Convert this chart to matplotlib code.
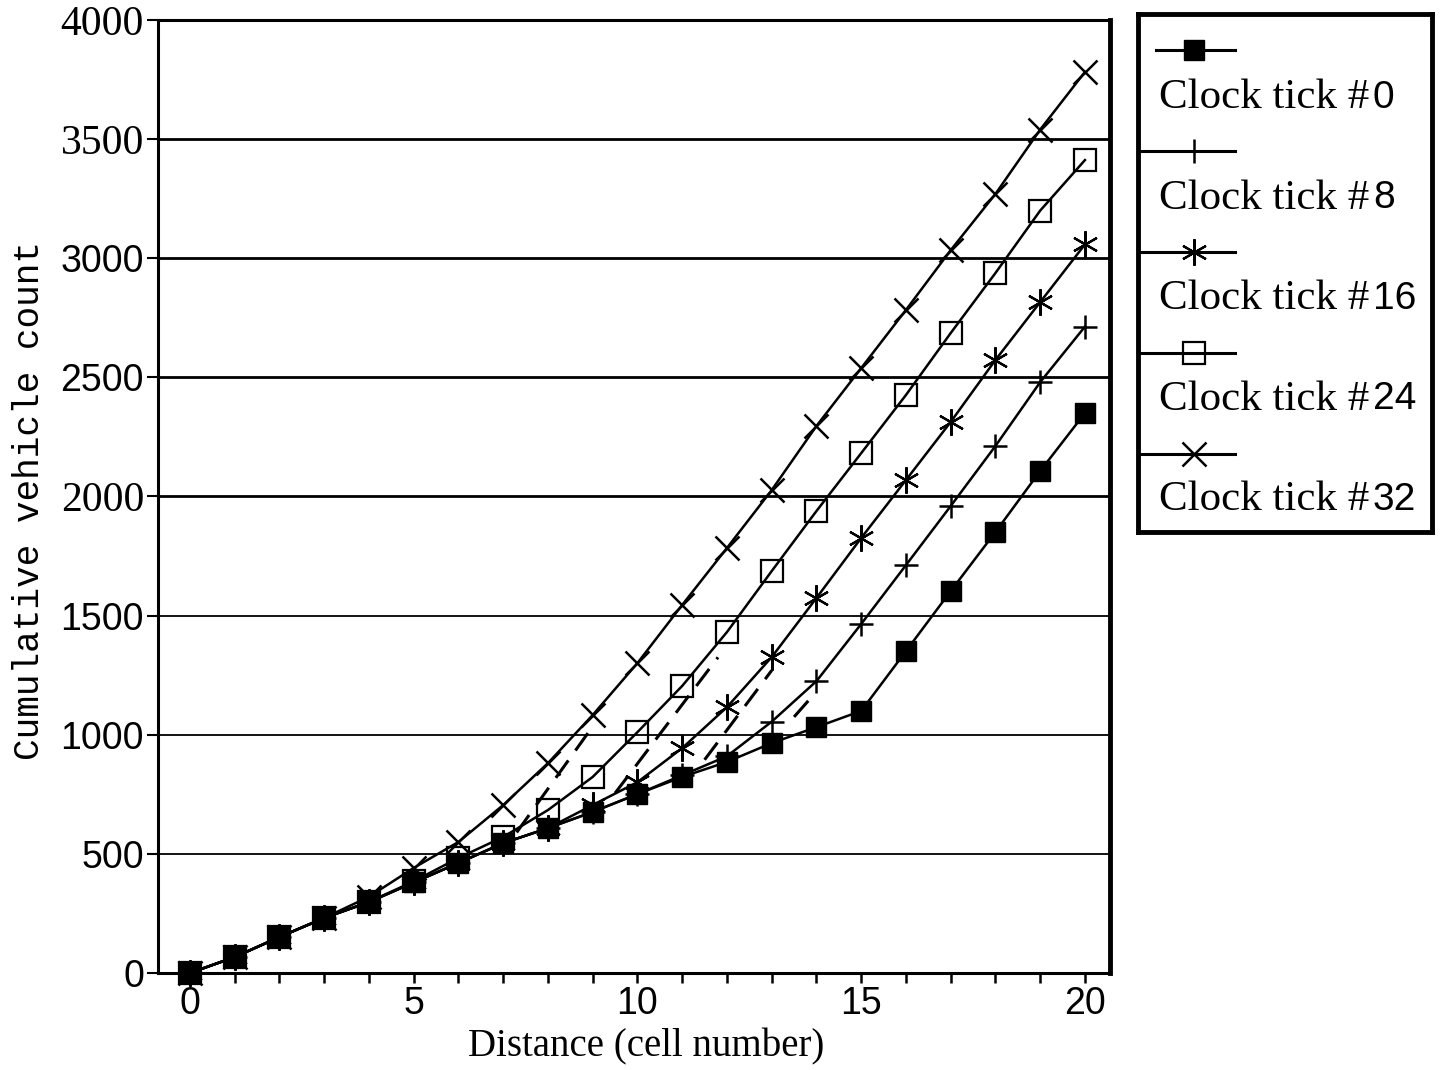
"""Cumulative vehicle count along the road at several clock ticks."""

import matplotlib
import matplotlib.pyplot as plt

matplotlib.use("Agg")

# cell index along the road
distance = list(range(21))

# cumulative vehicle counts per cell, one list per clock tick
tick_0 = [0, 67, 151, 231, 298, 380, 462, 545, 608, 676, 751, 823, 886,
          965, 1032, 1100, 1351, 1603, 1851, 2107, 2350]
tick_8 = [0, 67, 151, 231, 298, 380, 462, 545, 608, 676, 751, 830, 910,
          1055, 1225, 1465, 1712, 1960, 2212, 2480, 2713]
tick_16 = [0, 67, 151, 231, 298, 380, 462, 545, 608, 705, 801, 944, 1116,
           1326, 1574, 1826, 2069, 2313, 2573, 2816, 3058]
tick_24 = [0, 67, 151, 231, 298, 385, 483, 571, 684, 823, 1011, 1205, 1431,
           1687, 1939, 2182, 2426, 2686, 2938, 3200, 3412]
tick_32 = [0, 67, 151, 231, 320, 441, 550, 705, 881, 1083, 1301, 1545, 1784,
           2027, 2296, 2539, 2783, 3034, 3270, 3540, 3782]

clock_ticks = [0, 8, 16, 24, 32]

# dashed shock-front segments drawn between curves
dash_x = [[7.3, 9.0], [9.5, 11.8], [11.5, 13.0], [13.5, 13.9]]
dash_y = [[590, 1035], [755, 1325], [895, 1270], [1075, 1160]]

y_ticks = [0, 500, 1000, 1500, 2000, 2500, 3000, 3500, 4000]
serif_ticks = [2000, 3500, 4000]

SERIF = "Liberation Serif"
SANS = "Liberation Sans"
MONO = "Liberation Mono"

STYLES = [
    dict(marker="s", markersize=15, markerfacecolor="black"),
    dict(marker="+", markersize=17, markeredgewidth=1.8),
    dict(marker=(6, 2, 0), markersize=19, markeredgewidth=1.6),
    dict(marker="s", markersize=16, fillstyle="none", markeredgewidth=1.6),
    dict(marker="x", markersize=17, markeredgewidth=1.8),
]


def draw_axes(fig):
    """Draw the main plot with the five count curves.

    :param fig: The matplotlib figure.
    :return: The axes.
    """
    ax = fig.add_axes([158 / 1442, 1 - 973 / 1070, 952 / 1442, 953 / 1070])
    ax.set_xlim(-0.715, 20.56)
    ax.set_ylim(0, 4000)

    for value in y_ticks[1:]:
        ax.axhline(value, color="black", lw=2.0 if value >= 2000 else 1.3,
                   zorder=1)

    series = [tick_0, tick_8, tick_16, tick_24, tick_32]
    for values, style in zip(series, STYLES):
        ax.plot(distance, values, color="black", lw=1.8, clip_on=False,
                zorder=3, **style)

    for xs, ys in zip(dash_x, dash_y):
        ax.plot(xs, ys, color="black", lw=2.2, dashes=(7, 4), zorder=2)

    ax.set_xticks([0, 5, 10, 15, 20])
    ax.set_xticks(distance, minor=True)
    ax.set_yticks(y_ticks)
    ax.tick_params(axis="x", which="both", direction="out", length=7,
                   width=1.8, pad=2, labelsize=27)
    ax.tick_params(axis="y", direction="out", length=8, width=1.5, pad=2,
                   labelsize=27)
    for label in ax.get_xticklabels():
        label.set_fontfamily(SANS)
    for label, value in zip(ax.get_yticklabels(), y_ticks):
        if value in serif_ticks:
            label.set_fontfamily(SERIF)
            label.set_fontsize(30)
        else:
            label.set_fontfamily(SANS)

    ax.spines["left"].set_linewidth(2.2)
    ax.spines["right"].set_linewidth(3.5)
    ax.spines["bottom"].set_linewidth(2.2)
    ax.spines["top"].set_linewidth(2.2)
    return ax


def draw_legend(fig):
    """Draw the boxed legend with the marker above each label.

    :param fig: The matplotlib figure.
    :return: None.
    """
    leg = fig.add_axes([1138 / 1442, 1 - 532 / 1070, 294 / 1442, 518 / 1070])
    leg.set_xlim(0, 1)
    leg.set_ylim(1, 0)
    leg.set_xticks([])
    leg.set_yticks([])
    for spine in leg.spines.values():
        spine.set_linewidth(3.5)

    for i, (tick, style) in enumerate(zip(clock_ticks, STYLES)):
        line_y = 0.07 + i * 0.195
        text_y = 0.162 + i * 0.194
        start = 0.06 if i == 0 else 0.01
        leg.plot([start, 0.19, 0.33], [line_y] * 3, color="black", lw=2.2,
                 markevery=[1], **style)
        text = leg.text(0.07, text_y, "Clock tick #", family=SERIF,
                        fontsize=31, va="center", ha="left")
        leg.annotate(str(tick), xy=(1, 0.5), xycoords=text, xytext=(3, 0),
                     textcoords="offset points", va="center", ha="left",
                     family=SANS, fontsize=28)


def main():
    """Build the figure and save it.

    :return: None.
    """
    fig = plt.figure(figsize=(14.42, 10.7), dpi=100)
    draw_axes(fig)
    draw_legend(fig)
    fig.text(646 / 1442, 1 - 1047 / 1070, "Distance (cell number)",
             family=SERIF, fontsize=28, ha="center", va="center")
    fig.text(30 / 1442, 1 - 500 / 1070, "Cumulative vehicle count",
             family=MONO, fontsize=26, rotation=90, ha="center", va="center")
    fig.savefig("out.png", dpi=100)
    plt.close(fig)


if __name__ == "__main__":
    main()
